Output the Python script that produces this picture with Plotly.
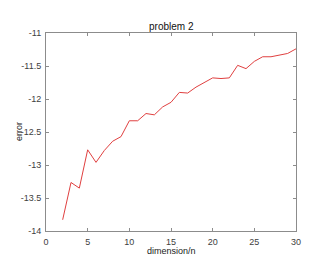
import plotly.graph_objects as go

dimension = list(range(2, 31))
error = [-13.83, -13.265, -13.35, -12.77, -12.96, -12.78, -12.64, -12.57, -12.33, -12.33,
         -12.22, -12.24, -12.12, -12.05, -11.90, -11.91, -11.82, -11.75, -11.68, -11.69,
         -11.68, -11.49, -11.54, -11.43, -11.36, -11.36, -11.33, -11.31, -11.24]

x_ticks = [0, 5, 10, 15, 20, 25, 30]
y_ticks = [-14, -13.5, -13, -12.5, -12, -11.5, -11]

FONT = "Liberation Sans, Arial"

fig = go.Figure()
fig.add_trace(go.Scatter(x=dimension, y=error, mode="lines",
                         line=dict(color="#e04040", width=1)))

axis_common = dict(showline=True, linecolor="#8c8c8c", linewidth=1, mirror="ticks",
                   ticks="inside", ticklen=3, tickcolor="#8c8c8c", showgrid=False,
                   zeroline=False, automargin=False,
                   tickfont=dict(family=FONT, size=9, color="#404040"))

# page body has an 8px default margin, so the figure is sized/offset to compensate
fig.update_layout(
    width=311, height=253,
    margin=dict(l=38, r=23, t=25, b=30),
    paper_bgcolor="white", plot_bgcolor="white",
    showlegend=False,
    xaxis=dict(range=[0, 30], tickvals=x_ticks, ticktext=[str(v) for v in x_ticks],
               ticklabelstandoff=2, **axis_common),
    yaxis=dict(range=[-14, -11], tickvals=y_ticks, ticktext=[str(v) for v in y_ticks],
               ticklabelstandoff=2, **axis_common),
    annotations=[
        dict(text="problem 2", xref="paper", yref="paper", x=0.5, y=1.0, yshift=-1,
             xanchor="center", yanchor="bottom", showarrow=False,
             font=dict(family=FONT, size=10, color="#111111")),
        dict(text="dimension/n", xref="paper", yref="paper", x=0.5, y=0, yshift=-13,
             xanchor="center", yanchor="top", showarrow=False,
             font=dict(family=FONT, size=9, color="#222222")),
        dict(text="error", xref="paper", yref="paper", x=0, y=0.5, xshift=-27,
             xanchor="center", yanchor="middle", textangle=-90, showarrow=False,
             font=dict(family=FONT, size=9, color="#222222")),
    ],
)

fig.write_html("out.html")
